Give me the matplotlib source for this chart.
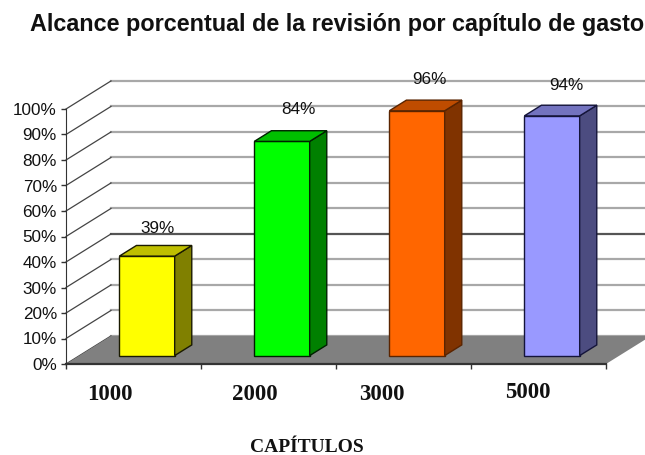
import matplotlib
matplotlib.use('Agg')
import matplotlib.pyplot as plt
from matplotlib.patches import Polygon

capitulos = ['1000', '2000', '3000', '5000']
alcance = [39, 84, 96, 94]
y_ticks = [0, 10, 20, 30, 40, 50, 60, 70, 80, 90, 100]

front_colors = ['#FFFF00', '#00FF00', '#FF6600', '#9999FF']
top_colors = ['#BFBF00', '#00BF00', '#BF4C00', '#7373BF']
side_colors = ['#808000', '#008000', '#803300', '#4C4C80']
edge_colors = ['#1a1a00', '#002000', '#5a2400', '#14143a']

# the labels are not centred on the categories in the original
label_shift = [-0.175, 0.90, 1.84, 2.92]
label_y = [395, 395, 395, 393]
value_dx = [11, 16, 12, 14]
value_dy = [28, 32, 31, 30]

# depth of the fake 3D box, in data units
depth_x = 1 / 3
depth_y = 11
bar_width = 0.41
bar_pos = 0.30
bar_depth = 0.38

fig = plt.figure(figsize=(6.45, 4.55), dpi=100)
ax = fig.add_axes([66 / 645, (455 - 364) / 455, 540 / 645, 255 / 455])
ax.set_xlim(-0.5, 3.5)
ax.set_ylim(0, 100)
ax.patch.set_visible(False)

for s in ['top', 'right']:
    ax.spines[s].set_visible(False)
ax.spines['left'].set_color('#333333')
ax.spines['bottom'].set_color('#333333')
ax.spines['bottom'].set_linewidth(1.6)
ax.spines['bottom'].set_zorder(5)

ax.set_yticks(y_ticks)
ax.set_yticklabels([str(v) + '%' for v in y_ticks], family='Liberation Sans',
                   fontsize=12.3, color='#111111')
ax.tick_params(axis='y', length=3.5, width=1, color='#333333', pad=3)
ax.set_xticks([-0.5, 0.5, 1.5, 2.5, 3.5])
ax.set_xticklabels([])
ax.tick_params(axis='x', length=3.5, width=1, color='#333333')

# back wall lines
x0 = -0.5
x1 = 3.5
for v in y_ticks:
    grid_color = '#555555' if v == 40 else '#a8a8a8'
    ax.plot([x0 + depth_x, x1 + depth_x], [v + depth_y, v + depth_y], color=grid_color,
            lw=1.6, clip_on=False, zorder=1)
    ax.plot([x0, x0 + depth_x], [v, v + depth_y], color='#444444', lw=0.9,
            clip_on=False, zorder=1)

# floor
floor = Polygon([(x0, 0), (x1, 0), (x1 + depth_x, depth_y), (x0 + depth_x, depth_y)],
                closed=True, facecolor='#808080', edgecolor='none', clip_on=False, zorder=2)
ax.add_patch(floor)

for i, v in enumerate(alcance):
    left = i + depth_x * bar_pos - bar_width / 2
    right = left + bar_width
    base = depth_y * bar_pos
    top = base + v
    dx = depth_x * bar_depth
    dy = depth_y * bar_depth
    ec = edge_colors[i]
    ax.add_patch(Polygon([(left, base), (right, base), (right, top), (left, top)],
                         facecolor=front_colors[i], edgecolor=ec, lw=1, clip_on=False, zorder=3))
    ax.add_patch(Polygon([(right, base), (right + dx, base + dy), (right + dx, top + dy), (right, top)],
                         facecolor=side_colors[i], edgecolor=ec, lw=1, clip_on=False, zorder=3))
    ax.add_patch(Polygon([(left, top), (right, top), (right + dx, top + dy), (left + dx, top + dy)],
                         facecolor=top_colors[i], edgecolor=ec, lw=1, clip_on=False, zorder=3))
    ax.annotate(str(v) + '%', xy=(i + depth_x * bar_pos, top), xytext=(value_dx[i], value_dy[i]),
                textcoords='offset pixels', ha='center', va='center', family='Liberation Sans',
                fontsize=12.3, color='#111111', zorder=6, annotation_clip=False)

# category labels
for name, shift, py in zip(capitulos, label_shift, label_y):
    ax.annotate(name, xy=(shift, 0), xycoords=('data', 'axes fraction'),
                xytext=(0, 364 - py), textcoords='offset pixels', ha='center', va='center',
                family='Liberation Serif', fontweight='bold', fontsize=16.5, color='#111111',
                annotation_clip=False)

fig.text(307 / 645, 1 - 447 / 455, 'CAPÍTULOS', ha='center', va='center',
         family='Liberation Serif', fontweight='bold', fontsize=14, color='#111111')
fig.text(337.5 / 645, 1 - 24 / 455, 'Alcance porcentual de la revisión por capítulo de gasto',
         ha='center', va='center', family='Liberation Sans', fontweight='bold',
         fontsize=16.8, color='#111111')

fig.savefig('out.png', dpi=100)
